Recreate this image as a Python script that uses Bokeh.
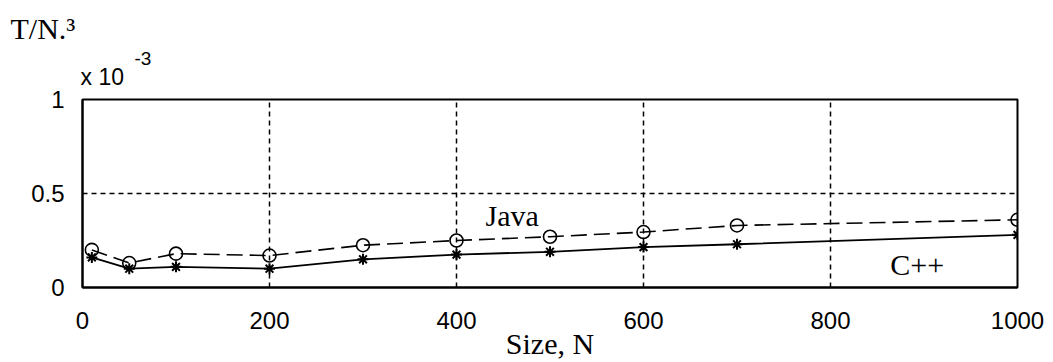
from bokeh.plotting import figure
from bokeh.models import Range1d, FixedTicker, Label, Title
from bokeh.embed import file_html
from bokeh.resources import INLINE

# Data (values in units of 1e-3, as on the axis)
sizes = [10, 50, 100, 200, 300, 400, 500, 600, 700, 1000]
java = [0.20, 0.13, 0.18, 0.17, 0.225, 0.25, 0.27, 0.295, 0.33, 0.36]
cpp = [0.16, 0.10, 0.11, 0.10, 0.15, 0.175, 0.19, 0.215, 0.23, 0.28]
x_ticks = [0, 200, 400, 600, 800, 1000]
y_ticks = [0, 0.5, 1]
y_tick_labels = {0: "0", 0.5: "0.5", 1: "1"}

p = figure(width=1045, height=362, output_backend="svg", toolbar_location=None,
           x_range=Range1d(0, 1000), y_range=Range1d(0, 1),
           min_border_left=82, min_border_right=28, min_border_top=99, min_border_bottom=70)
p.background_fill_color = "white"
p.border_fill_color = "white"
p.outline_line_color = "black"
p.outline_line_width = 2

for ax in (p.xaxis[0], p.yaxis[0]):
    ax.axis_line_color = "black"
    ax.axis_line_width = 2
    ax.major_tick_out = 0
    ax.major_tick_in = 0
    ax.minor_tick_out = 0
    ax.minor_tick_in = 0
    ax.major_label_text_font = "Liberation Sans"
    ax.major_label_text_font_size = "24px"
    ax.major_label_text_color = "black"

p.xaxis[0].major_label_standoff = 24
p.yaxis[0].major_label_standoff = 18

p.xaxis[0].ticker = FixedTicker(ticks=x_ticks)
p.yaxis[0].ticker = FixedTicker(ticks=y_ticks)
p.yaxis[0].major_label_overrides = y_tick_labels

p.xaxis[0].axis_label = "Size, N"
p.xaxis[0].axis_label_text_font = "Liberation Serif"
p.xaxis[0].axis_label_text_font_size = "30px"
p.xaxis[0].axis_label_text_font_style = "normal"
p.xaxis[0].axis_label_text_color = "black"
p.xaxis[0].axis_label_standoff = -5

p.xgrid[0].ticker = FixedTicker(ticks=[200, 400, 600, 800])
p.ygrid[0].ticker = FixedTicker(ticks=[0.5])
for g in (p.xgrid[0], p.ygrid[0]):
    g.grid_line_color = "black"
    g.grid_line_width = 1.5
    g.grid_line_dash = "5 4"
    g.grid_line_alpha = 1.0

# Java: dashed line with open circles
p.line(sizes, java, line_color="black", line_width=1.6, line_dash="16 7")
p.scatter(sizes, java, marker="circle", size=13, fill_color=None,
          line_color="black", line_width=1.6)

# C++: solid line with asterisks
p.line(sizes, cpp, line_color="black", line_width=1.8)
p.scatter(sizes, cpp, marker="asterisk", size=11, line_color="black", line_width=2)

serif = "Liberation Serif"
p.add_layout(Label(x=431, y=0.385, text="Java", text_font=serif,
                   text_font_size="30px", text_baseline="alphabetic", text_color="black"))
p.add_layout(Label(x=864, y=0.12, text="C++", text_font=serif,
                   text_font_size="30px", text_baseline="alphabetic", text_color="black"))

# Texts above the frame (stacked rows, nearest row first)
p.add_layout(Title(text="x 10", align="left", offset=-2, standoff=19,
                   text_font="Liberation Sans", text_font_size="23px",
                   text_font_style="normal", text_color="black"), "above")
p.add_layout(Title(text="-3", align="left", offset=52, standoff=-25,
                   text_font="Liberation Sans", text_font_size="19px",
                   text_font_style="normal", text_color="black"), "above")
p.add_layout(Title(text="T/N.\u00b3", align="left", offset=-72, standoff=15,
                   text_font=serif, text_font_size="30px",
                   text_font_style="normal", text_color="black"), "above")

open("out.html", "w").write(file_html(p, INLINE))
